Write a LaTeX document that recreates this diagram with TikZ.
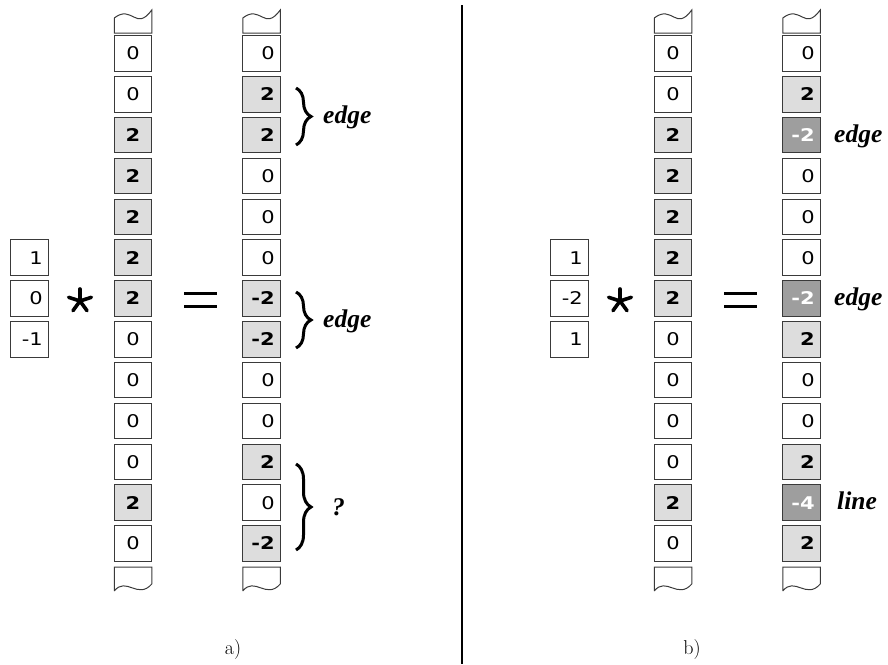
\documentclass[tikz,border=0pt]{standalone}
\usepackage{fontspec}
\newfontfamily\cellfont[FakeStretch=1.2]{DejaVu Sans}
\newfontfamily\lblfont{Liberation Serif}
\usetikzlibrary{decorations.pathreplacing}
\definecolor{litegray}{HTML}{DDDDDD}
\definecolor{darkgray}{HTML}{9E9E9E}
\definecolor{cellborder}{HTML}{3A3A3A}
\tikzset{
  cell/.style={draw=cellborder, line width=1pt, minimum width=37.5pt, minimum height=35.5pt,
    inner xsep=5.5pt, inner ysep=0pt, text width=26.5pt},
  ra/.style={align=right},
  ctr/.style={align=center},
  cw/.style={fill=white, text=black, font=\cellfont\fontsize{17.5}{19}\selectfont},
  cg/.style={fill=litegray, text=black, font=\cellfont\bfseries\fontsize{17.5}{19}\selectfont},
  cd/.style={fill=darkgray, text=white, font=\cellfont\bfseries\fontsize{17.5}{19}\selectfont},
  wave/.style={draw=cellborder, line width=1pt},
  starline/.style={line width=3.6pt, line cap=round},
  eqline/.style={line width=3pt},
  bracestyle/.style={decorate, decoration={brace, amplitude=15pt}, line width=3pt},
  lbl/.style={font=\lblfont\bfseries\itshape\fontsize{25.5}{28}\selectfont, inner sep=0pt},
  captext/.style={font=\fontsize{20}{22}\selectfont, inner sep=0pt}
}
\begin{document}
\begin{tikzpicture}[x=1pt,y=-1pt]
\useasboundingbox (0,0) rectangle (888,664);

% ---------- left panel ----------
\foreach \v/\s [count=\i] in {1/cw,0/cw,-1/cw} {
  \node[cell,ra,\s] (Lk\i) at (29.5,{53.5+(\i+4)*40.83}) {\v};
}
\foreach \v/\s [count=\i] in {0/cw,0/cw,2/cg,2/cg,2/cg,2/cg,2/cg,0/cw,0/cw,0/cw,0/cw,2/cg,0/cw} {
  \node[cell,ctr,\s] (La\i) at (133,{53.5+(\i-1)*40.83}) {\v};
}
\foreach \v/\s [count=\i] in {0/cw,2/cg,2/cg,0/cw,0/cw,0/cw,-2/cg,-2/cg,0/cw,0/cw,2/cg,0/cw,-2/cg} {
  \node[cell,ra,\s] (Lb\i) at (261.5,{53.5+(\i-1)*40.83}) {\v};
}

% ---------- right panel ----------
\foreach \v/\s [count=\i] in {1/cw,-2/cw,1/cw} {
  \node[cell,ra,\s] (Rk\i) at (569.5,{53.5+(\i+4)*40.83}) {\v};
}
\foreach \v/\s [count=\i] in {0/cw,0/cw,2/cg,2/cg,2/cg,2/cg,2/cg,0/cw,0/cw,0/cw,0/cw,2/cg,0/cw} {
  \node[cell,ctr,\s] (Ra\i) at (673,{53.5+(\i-1)*40.83}) {\v};
}
\foreach \v/\s [count=\i] in {0/cw,2/cg,-2/cd,0/cw,0/cw,0/cw,-2/cd,2/cg,0/cw,0/cw,2/cg,-4/cd,2/cg} {
  \node[cell,ra,\s] (Rb\i) at (801.5,{53.5+(\i-1)*40.83}) {\v};
}

% ---------- torn ends of the columns ----------
\foreach \x in {133,261.5,673,801.5} {
  \draw[wave] ({\x-18.75},18) -- ({\x-18.75},33) -- ({\x+18.75},33) -- ({\x+18.75},10)
     .. controls ({\x+2.75},32) and ({\x-0.75},4) .. ({\x-18.75},18);
  \draw[wave] ({\x-18.75},591) -- ({\x-18.75},567) -- ({\x+18.75},567) -- ({\x+18.75},584)
     .. controls ({\x+4.75},600) and ({\x-6.75},576) .. ({\x-18.75},591);
}

% ---------- operators ----------
\foreach \cx in {80,620} {
  \foreach \a in {-90,-18,54,126,198} \draw[starline] (\cx,301) -- ++(\a:12);
}
\foreach \ex in {184,724} {
  \draw[eqline] (\ex,293) -- ++(33,0);
  \draw[eqline] (\ex,306.5) -- ++(33,0);
}

% ---------- braces and labels ----------
\coordinate (B1t) at (296,88);  \coordinate (B1b) at (296,145);
\coordinate (B2t) at (296,292); \coordinate (B2b) at (296,348);
\coordinate (B3t) at (296,464); \coordinate (B3b) at (296,550);
\draw[bracestyle] (B1t) -- (B1b);
\draw[bracestyle] (B2t) -- (B2b);
\draw[bracestyle] (B3t) -- (B3b);
\node[lbl, anchor=base west] (E1) at (323,123) {edge};
\node[lbl, anchor=base west] (E2) at (323,327) {edge};
\node[lbl, anchor=base west] (Q3) at (332,515) {?};
\node[lbl, anchor=base west] (E3) at (834,142) {edge};
\node[lbl, anchor=base west] (E4) at (834,305) {edge};
\node[lbl, anchor=base west] (L5) at (837,509) {line};

% ---------- divider and captions ----------
\draw[line width=2pt] (462,5) -- (462,664);
\node[captext] (capa) at (233,649) {a)};
\node[captext] (capb) at (692,649) {b)};
\end{tikzpicture}
\end{document}
